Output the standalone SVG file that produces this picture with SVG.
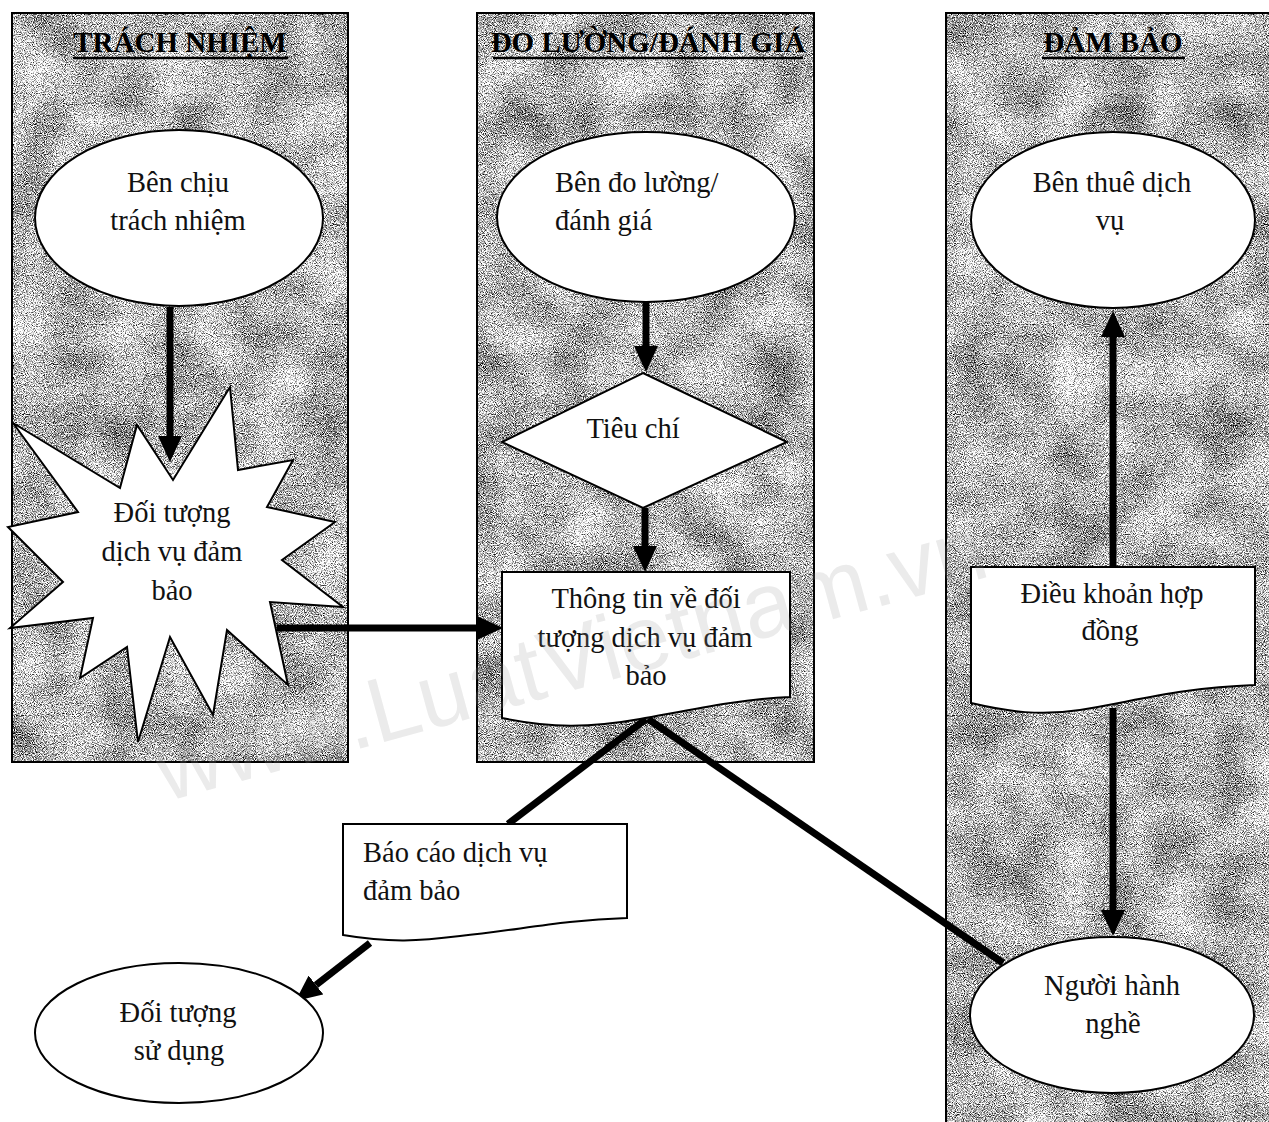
<svg xmlns="http://www.w3.org/2000/svg" width="1269" height="1122" viewBox="0 0 1269 1122">
  <defs>
    <filter id="tex" x="0%" y="0%" width="100%" height="100%" color-interpolation-filters="sRGB">
      <feTurbulence type="fractalNoise" baseFrequency="1.1" numOctaves="1" seed="7" result="fine"/>
      <feTurbulence type="fractalNoise" baseFrequency="0.02" numOctaves="2" seed="3" result="coarse"/>
      <feColorMatrix in="fine" type="matrix" values="1 0 0 0 0  1 0 0 0 0  1 0 0 0 0  0 0 0 0 1" result="fg"/>
      <feColorMatrix in="coarse" type="matrix" values="1 0 0 0 0  1 0 0 0 0  1 0 0 0 0  0 0 0 0 1" result="cg"/>
      <feComposite in="fg" in2="cg" operator="arithmetic" k1="0" k2="0.8" k3="0.2" k4="0" result="mix"/>
      <feComponentTransfer in="mix">
        <feFuncR type="linear" slope="3.4" intercept="-0.98"/>
        <feFuncG type="linear" slope="3.4" intercept="-0.98"/>
        <feFuncB type="linear" slope="3.4" intercept="-0.98"/>
      </feComponentTransfer>
    </filter>
    <marker id="ah" markerUnits="userSpaceOnUse" markerWidth="26" markerHeight="24" refX="0" refY="12" orient="auto" viewBox="0 0 26 24">
      <path d="M0,0 L26,12 L0,24 Z" fill="#000"/>
    </marker>
    <style>
      .lane { fill: #bdbdbd; }
      .laneb { fill: none; stroke: #000; stroke-width: 2; }
      .hdr { font-family: "Liberation Serif", "Times New Roman", serif; font-weight: bold; font-size: 29px; fill: #000; text-anchor: middle; }
      .ul { stroke: #000; stroke-width: 2.5; }
      .shape { fill: #fff; stroke: #000; stroke-width: 2; }
      .t { font-family: "Liberation Serif", "Times New Roman", serif; font-size: 28.5px; fill: #111; }
      .c { text-anchor: middle; }
      .conn { stroke: #000; stroke-width: 7; fill: none; }
      .wm { font-family: "Liberation Sans", Arial, sans-serif; font-size: 92px; fill: #9a9a9a; fill-opacity: 0.2; }
    </style>
  </defs>

  <rect width="1269" height="1122" fill="#fff"/>

  <!-- Lanes -->
  <g id="lane-trach-nhiem">
    <rect class="lane" x="12" y="13" width="336" height="749" filter="url(#tex)"/>
    <rect class="laneb" x="12" y="13" width="336" height="749"/>
    <text class="hdr" x="180" y="52">TRÁCH NHIỆM</text>
    <line class="ul" x1="73" y1="58" x2="288" y2="58"/>
  </g>
  <g id="lane-do-luong">
    <rect class="lane" x="477" y="13" width="337" height="749" filter="url(#tex)"/>
    <rect class="laneb" x="477" y="13" width="337" height="749"/>
    <text class="hdr" x="648" y="52">ĐO LƯỜNG/ĐÁNH GIÁ</text>
    <line class="ul" x1="493" y1="58" x2="803" y2="58"/>
  </g>
  <g id="lane-dam-bao">
    <rect class="lane" x="946" y="13" width="330" height="1115" filter="url(#tex)"/>
    <rect class="laneb" x="946" y="13" width="330" height="1115"/>
    <text class="hdr" x="1113" y="52">ĐẢM BẢO</text>
    <line class="ul" x1="1042" y1="58" x2="1185" y2="58"/>
  </g>

  <!-- Connectors -->
  <g id="connectors">
    <line class="conn" x1="170" y1="307" x2="170" y2="436" marker-end="url(#ah)"/>
    <line class="conn" x1="646" y1="302" x2="646" y2="346" marker-end="url(#ah)"/>
    <line class="conn" x1="645" y1="508" x2="645" y2="546" marker-end="url(#ah)"/>
    <line class="conn" x1="277" y1="628" x2="477" y2="628" marker-end="url(#ah)"/>
    <line class="conn" x1="1113" y1="567" x2="1113" y2="337" marker-end="url(#ah)"/>
    <line class="conn" x1="1113" y1="708" x2="1113" y2="910" marker-end="url(#ah)"/>
    <line class="conn" x1="370" y1="943" x2="316" y2="985" marker-end="url(#ah)"/>
    <line class="conn" x1="646" y1="719" x2="508" y2="824"/>
    <line class="conn" x1="648" y1="719" x2="1003" y2="963"/>
  </g>

  <!-- Nodes -->
  <g id="ben-chiu-trach-nhiem">
    <ellipse class="shape" cx="179" cy="218" rx="144" ry="88"/>
    <text class="t c" x="178" y="192">Bên chịu</text>
    <text class="t c" x="178" y="230">trách nhiệm</text>
  </g>

  <g id="doi-tuong-dich-vu">
    <polygon class="shape" points="13,423 120,488 137,425 173,480 230,387 238,470 293,460 267,507 335,522 282,560 343,607 270,602 288,685 227,630 213,715 170,637 138,742 127,647 80,678 93,618 10,628 63,582 8,527 78,512"/>
    <text class="t c" x="172" y="522">Đối tượng</text>
    <text class="t c" x="172" y="561">dịch vụ đảm</text>
    <text class="t c" x="172" y="600">bảo</text>
  </g>

  <g id="ben-do-luong">
    <ellipse class="shape" cx="646" cy="217" rx="149" ry="85"/>
    <text class="t" x="555" y="192">Bên đo lường/</text>
    <text class="t" x="555" y="230">đánh giá</text>
  </g>

  <g id="tieu-chi">
    <polygon class="shape" points="643,373 787,442 643,508 502,442"/>
    <text class="t c" x="633" y="438">Tiêu chí</text>
  </g>

  <g id="thong-tin">
    <path class="shape" d="M502,572 H790 V697 C740,699 690,710 640,719 C590,728 550,728 502,718 Z"/>
    <text class="t c" x="646" y="608">Thông tin về đối</text>
    <text class="t c" x="645" y="647">tượng dịch vụ đảm</text>
    <text class="t c" x="646" y="685">bảo</text>
  </g>

  <g id="bao-cao">
    <path class="shape" d="M343,824 H627 V918 C560,920 520,930 460,936 C420,941 390,943 343,935 Z"/>
    <text class="t" x="363" y="862">Báo cáo dịch vụ</text>
    <text class="t" x="363" y="900">đảm bảo</text>
  </g>

  <g id="doi-tuong-su-dung">
    <ellipse class="shape" cx="179" cy="1033" rx="144" ry="70"/>
    <text class="t c" x="178" y="1022">Đối tượng</text>
    <text class="t c" x="179" y="1060">sử dụng</text>
  </g>

  <g id="ben-thue-dich-vu">
    <ellipse class="shape" cx="1113" cy="220" rx="142" ry="88"/>
    <text class="t c" x="1112" y="192">Bên thuê dịch</text>
    <text class="t c" x="1110" y="230">vụ</text>
  </g>

  <g id="dieu-khoan">
    <path class="shape" d="M971,567 H1255 V685 C1180,688 1140,700 1080,710 C1040,716 1010,712 971,703 Z"/>
    <text class="t c" x="1112" y="603">Điều khoản hợp</text>
    <text class="t c" x="1110" y="640">đồng</text>
  </g>

  <g id="nguoi-hanh-nghe">
    <ellipse class="shape" cx="1112" cy="1015" rx="142" ry="78"/>
    <text class="t c" x="1112" y="995">Người hành</text>
    <text class="t c" x="1113" y="1033">nghề</text>
  </g>

  <!-- Watermark -->
  <text class="wm" x="165" y="802" transform="rotate(-15.3 165 802)">www.LuatVietnam.vn</text>
</svg>
